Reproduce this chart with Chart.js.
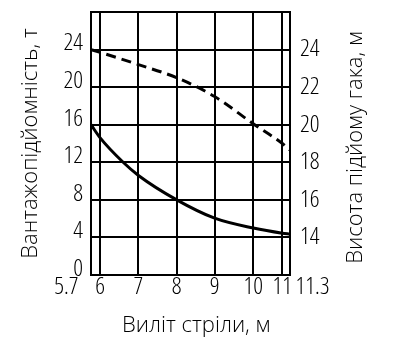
<!DOCTYPE html>
<html>
<head>
<meta charset="utf-8">
<script src="https://cdn.jsdelivr.net/npm/chart.js@4"></script>
<style>
  html, body { margin: 0; padding: 0; background: #fff; }
  #wrap { width: 394px; height: 343px; }
</style>
</head>
<body>
<div id="wrap"><canvas id="chart" width="394" height="343"></canvas></div>
<script>
// Вантажопідйомність і висота підйому гака залежно від вильоту стріли

const reachTicks = [5.7, 6, 7, 8, 9, 10, 11, 11.3];
const reachTickLabels = ['5.7', '6', '7', '8', '9', '10', '11', '11.3'];
// шкала вильоту на кресленні нерівномірна: місце кожної поділки в клітинках сітки
const reachGridPos = [0, 0.24, 1.24, 2.24, 3.23, 4.24, 5.0, 5.2];

const capacityReach = [5.7, 6, 6.6, 7, 8, 9, 10, 11, 11.3];
const capacity = [16, 14.6, 12, 10.6, 8.0, 6.05, 5.0, 4.45, 4.35];          // т, ліва вісь
const heightReach = [5.7, 6, 7, 8, 9, 10, 11, 11.3];
const hookHeight = [24.0, 23.85, 23.2, 22.5, 21.5, 20.05, 19.0, 18.65];     // м, права вісь

const capacityTicks = [0, 4, 8, 12, 16, 20, 24];
const heightTicks = [14, 16, 18, 20, 22, 24];

const xTitle = 'Виліт стріли, м';
const yTitle = 'Вантажопідйомність, т';
const y2Title = 'Висота підйому гака, м';

const FONT_FAMILY = "'Open Sans', 'DejaVu Sans', sans-serif";
const TITLE_FONT = { weight: '300', size: 22 };
const TICK_FONT = { weight: '300 semi-condensed', size: 24 };

// переводить виліт у положення на нерівномірній шкалі
function toGrid(r) {
    for (let i = 1; i < reachTicks.length; i++) {
        if (r <= reachTicks[i]) {
            const t = (r - reachTicks[i - 1]) / (reachTicks[i] - reachTicks[i - 1]);
            return reachGridPos[i - 1] + t * (reachGridPos[i] - reachGridPos[i - 1]);
        }
    }
    return reachGridPos[reachGridPos.length - 1];
}

// крайні підписи зсунуті назовні, як на кресленні: добиваємо пробілами
const measureCtx = document.createElement('canvas').getContext('2d');
measureCtx.font = TICK_FONT.weight + ' ' + TICK_FONT.size + 'px ' + FONT_FAMILY;
function padLabel(text, shiftPx) {
    let pad = '';
    while (measureCtx.measureText(pad).width < Math.abs(shiftPx) * 2) pad += ' ';
    return shiftPx < 0 ? text + pad : pad + text;
}

const rightTitlePlugin = {
    id: 'rightTitle',
    afterDraw(chart) {
        const { ctx, chartArea } = chart;
        const scale = chart.scales.y2;
        ctx.save();
        ctx.font = TITLE_FONT.weight + ' ' + TITLE_FONT.size + 'px ' + FONT_FAMILY;
        ctx.fillStyle = '#000';
        ctx.textAlign = 'center';
        ctx.textBaseline = 'middle';
        ctx.translate(scale.right - 38, (chartArea.top + chartArea.bottom) / 2 + 4);
        ctx.rotate(-Math.PI / 2);
        ctx.fillText(y2Title, 0, 0);
        ctx.restore();
    }
};

Chart.defaults.font.family = FONT_FAMILY;
Chart.defaults.font.weight = TITLE_FONT.weight;
Chart.defaults.font.size = TITLE_FONT.size;
Chart.defaults.color = '#000';

const gridStyle = { color: '#000', lineWidth: 2, drawTicks: false };
const borderStyle = { display: true, color: '#000', width: 2 };

// розміри осей задаємо самі, без автоматичних відступів під підписи
function fixVertical(width) {
    return scale => { scale.width = width; scale.paddingTop = 0; scale.paddingBottom = 0; };
}

new Chart(document.getElementById('chart'), {
    type: 'line',
    data: {
        datasets: [
            {
                label: yTitle,
                data: capacityReach.map((r, i) => ({ x: toGrid(r), y: capacity[i] })),
                yAxisID: 'y',
                borderColor: '#000',
                borderWidth: 3,
                pointRadius: 0,
                fill: false,
                cubicInterpolationMode: 'monotone'
            },
            {
                label: y2Title,
                data: heightReach.map((r, i) => ({ x: toGrid(r), y: hookHeight[i] })),
                yAxisID: 'y2',
                borderColor: '#000',
                borderWidth: 3,
                borderDash: [10, 6],
                pointRadius: 0,
                fill: false,
                cubicInterpolationMode: 'monotone'
            }
        ]
    },
    options: {
        responsive: false,
        animation: false,
        layout: { padding: { top: 12, right: 0, bottom: 0, left: 0 } },
        plugins: {
            legend: { display: false },
            tooltip: { enabled: false }
        },
        scales: {
            x: {
                type: 'linear',
                min: reachGridPos[0],
                max: reachGridPos[reachGridPos.length - 1],
                grid: gridStyle,
                border: borderStyle,
                afterBuildTicks: scale => { scale.ticks = reachGridPos.map(v => ({ value: v })); },
                afterFit: scale => { scale.height = 68; scale.paddingLeft = 0; scale.paddingRight = 0; },
                ticks: {
                    font: TICK_FONT,
                    autoSkip: false,
                    maxRotation: 0,
                    padding: -2,
                    callback: (value, index) => {
                        const label = reachTickLabels[index];
                        if (index === 0) return padLabel(label, -23);
                        if (index === reachTickLabels.length - 1) return padLabel(label, 21);
                        return label;
                    }
                },
                title: { display: true, text: '  ' + xTitle, padding: { top: 0, bottom: 4 } }
            },
            y: {
                position: 'left',
                min: 0,
                max: 28,
                grid: gridStyle,
                border: borderStyle,
                afterBuildTicks: scale => {
                    scale.ticks = capacityTicks.concat([28]).map(v => ({ value: v }));
                },
                afterFit: fixVertical(91),
                ticks: {
                    font: TICK_FONT,
                    padding: 8,
                    labelOffset: -6,
                    callback: v => capacityTicks.includes(v) ? String(v) : ''
                },
                title: { display: true, text: yTitle, padding: { top: 18, bottom: 0 } }
            },
            y2: {
                position: 'right',
                min: 12,
                max: 26,
                grid: { display: false, drawTicks: false },
                border: borderStyle,
                afterBuildTicks: scale => { scale.ticks = heightTicks.map(v => ({ value: v })); },
                afterFit: fixVertical(104),
                ticks: { font: TICK_FONT, padding: 10 }
            }
        }
    },
    plugins: [rightTitlePlugin]
});
</script>
</body>
</html>
